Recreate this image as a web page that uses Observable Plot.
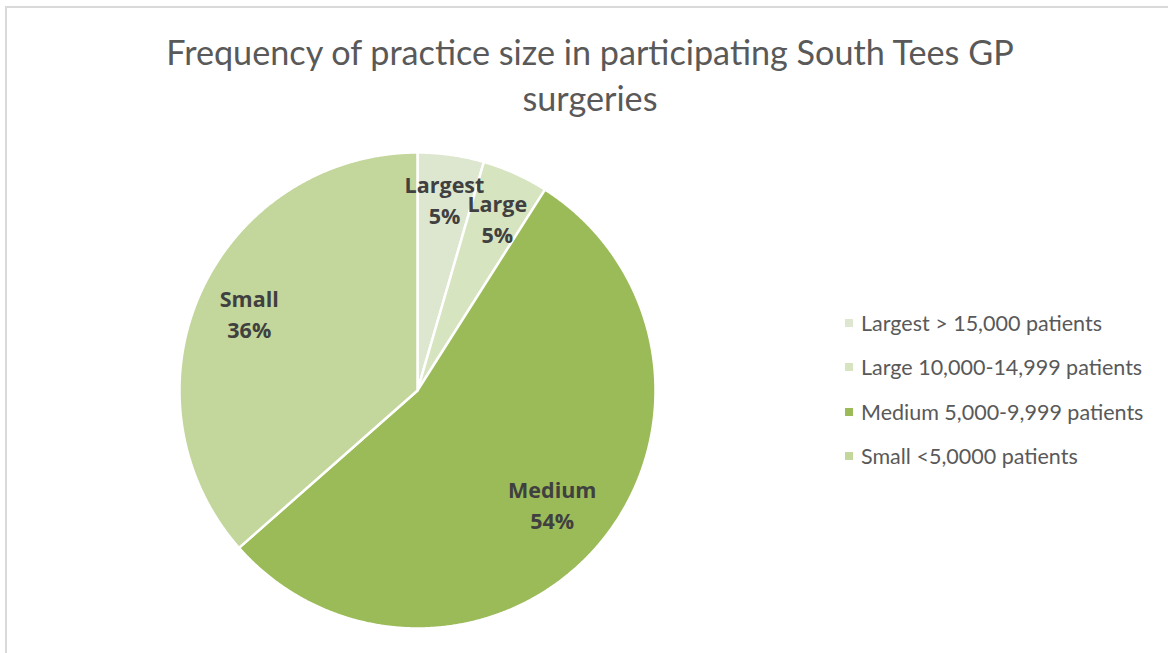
<!DOCTYPE html>
<html>
<head>
<meta charset="utf-8">
<script src="https://cdn.jsdelivr.net/npm/d3@7"></script>
<script src="https://cdn.jsdelivr.net/npm/@observablehq/plot@0.6"></script>
<style>
  html, body { margin: 0; padding: 0; background: #fff; }
  #frame { position: relative; width: 1168px; height: 653px; overflow: hidden; font-family: Lato, "Open Sans", sans-serif; }
  #border { position: absolute; left: 5px; top: 6px; width: 1200px; height: 700px; border: 2px solid #d9d9d9; box-sizing: border-box; }
  #title { position: absolute; left: 10px; width: 1160px; top: 29px; text-align: center; font-size: 34.2px; line-height: 46px; color: #595959; }
  #chart { position: absolute; left: 0; top: 125px; }
  #legend { position: absolute; left: 845px; top: 301px; font-size: 21.5px; color: #595959; }
  .item { height: 44.3px; display: flex; align-items: center; white-space: nowrap; }
  .sw { width: 8px; height: 8px; margin-right: 8px; flex: none; }
</style>
</head>
<body>
<div id="frame">
  <div id="border"></div>
  <div id="title">Frequency of practice size in participating South Tees GP<br>surgeries</div>
  <div id="chart"></div>
  <div id="legend"></div>
</div>
<script>
const categories = ["Largest", "Large", "Medium", "Small"];
const shares = [4.5, 4.5, 54.5, 36.5];
const pctLabels = ["5%", "5%", "54%", "36%"];
const legendLabels = ["Largest > 15,000 patients", "Large 10,000-14,999 patients", "Medium 5,000-9,999 patients", "Small <5,0000 patients"];
const colors = ["#dde7cf", "#d7e4c0", "#9bbb59", "#c3d69b"];

const arcs = d3.pie().sort(null).value(d => d)(shares);

const slicePoints = [];
arcs.forEach((a, i) => {
  slicePoints.push({cat: categories[i], x: 0, y: 0});
  const n = Math.max(2, Math.ceil((a.endAngle - a.startAngle) / 0.005));
  for (let k = 0; k <= n; k++) {
    const t = a.startAngle + (a.endAngle - a.startAngle) * k / n;
    slicePoints.push({cat: categories[i], x: Math.sin(t), y: Math.cos(t)});
  }
  slicePoints.push({cat: categories[i], x: 0, y: 0});
});

// label radius: bigger slices get labels a little closer to the centre (as Excel's best-fit does)
const labelPoints = arcs.map((a, i) => {
  const m = (a.startAngle + a.endAngle) / 2;
  const r = 0.81 - 0.0012 * shares[i];
  return {cat: categories[i], x: r * Math.sin(m), y: r * Math.cos(m), text: categories[i] + "\n" + pctLabels[i]};
});
// small layout nudges (pixels) so neighbouring labels of thin slices do not collide
const nudgeX = {Largest: 0, Large: 1, Medium: 0, Small: -2};
const nudgeY = {Largest: -2, Large: 2, Medium: -2, Small: -3};

const cx = 417, cy = 265, R = 238;
const labelStyle = {fill: "#404040", fontSize: 21.5, fontWeight: "bold", lineHeight: 1.44, fontFamily: "'Open Sans', Lato, sans-serif"};
const chart = Plot.plot({
  width: 1168,
  height: 528,
  margin: 0,
  x: {domain: [-1, 1], range: [cx - R, cx + R], axis: null},
  y: {domain: [-1, 1], range: [cy + R, cy - R], axis: null},
  color: {domain: categories, range: colors},
  marks: [
    Plot.line(slicePoints, {x: "x", y: "y", z: "cat", fill: "cat", stroke: "#ffffff", strokeWidth: 2.5, strokeLinejoin: "round", curve: "linear"}),
    ...labelPoints.map(d => Plot.text([d], {x: "x", y: "y", text: "text", dx: nudgeX[d.cat], dy: nudgeY[d.cat], ...labelStyle}))
  ]
});
document.getElementById("chart").appendChild(chart);

const legend = document.getElementById("legend");
categories.forEach((c, i) => {
  const row = document.createElement("div");
  row.className = "item";
  const sw = document.createElement("span");
  sw.className = "sw";
  sw.style.background = colors[i];
  const tx = document.createElement("span");
  tx.textContent = legendLabels[i];
  row.appendChild(sw);
  row.appendChild(tx);
  legend.appendChild(row);
});
</script>
</body>
</html>
